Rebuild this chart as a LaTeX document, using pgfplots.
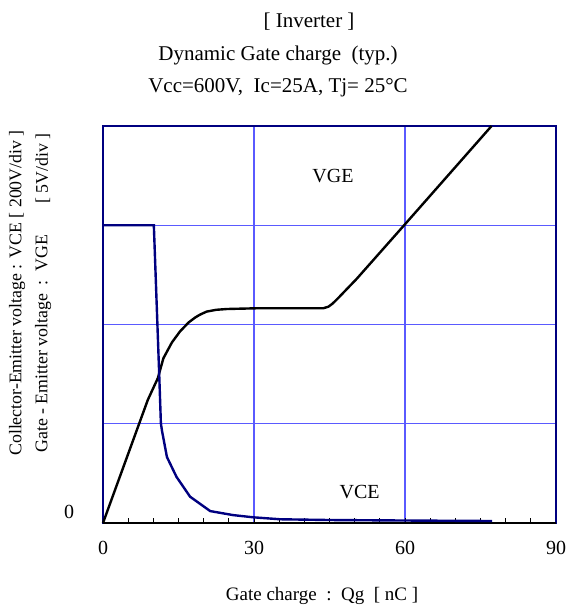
\documentclass[border=0pt]{standalone}
\usepackage{fontspec}
\setmainfont{Liberation Serif}
\usepackage{pgfplots}
\pgfplotsset{compat=1.18}
\definecolor{navy}{RGB}{0,0,128}
\definecolor{gridblue}{RGB}{90,90,255}
\begin{document}
\begin{tikzpicture}[x=1pt,y=1pt]
\useasboundingbox (0,0) rectangle (286,304);
% VGE axis (5V/div)
\begin{axis}[
  at={(51.5pt,42.5pt)}, anchor=south west,
  scale only axis, width=226.5pt, height=198.5pt,
  xmin=0, xmax=90, ymin=0, ymax=20,
  xtick={0,30,60,90}, ytick={0,5,10,15,20}, yticklabels={0,,,,},
  minor x tick num=5,
  xtick pos=bottom, ytick pos=left,
  tick align=inside,
  major tick length=2.5pt, minor tick length=2.5pt,
  xtick style={black, line width=0.5pt},
  ytick style={draw=none},
  grid=major, grid style={gridblue, line width=0.6pt},
  axis line style={navy, line width=0.8pt},
  xticklabel style={anchor=center, yshift=-12.5pt},
  yticklabel style={anchor=center, xshift=-17pt, yshift=5.5pt},
  /pgf/number format/assume math mode=true,
  clip=false,
]
\addplot[black, line width=1.2pt] coordinates {
  (0,0) (8.9,6.2) (10.9,7.3) (12,8.3) (13.7,9.1) (15.3,9.65) (17,10.1)
  (18.3,10.35) (19.3,10.5) (20.6,10.65) (22.5,10.74) (24.6,10.78) (31,10.82) (43.8,10.82)
  (44.8,10.9) (45.6,11.05) (46.8,11.35) (48.5,11.8) (50.4,12.3) (60,15.05) (77.2,20)
};
\draw[black, line width=0.9pt] (rel axis cs:0,0) -- (rel axis cs:1,0);
\node at (axis cs:45.7,17.5) {VGE};
\node at (axis cs:51,1.55) {VCE};
\end{axis}
% VCE axis (200V/div)
\begin{axis}[
  at={(51.5pt,42.5pt)}, anchor=south west,
  scale only axis, width=226.5pt, height=198.5pt,
  xmin=0, xmax=90, ymin=0, ymax=800,
  hide axis,
]
\addplot[navy, line width=1.2pt] coordinates {
  (0,600) (10.1,600) (11.2,290) (11.5,201) (11.7,187) (12.7,133)
  (14.6,93) (17.3,53) (21.3,24) (25.8,16) (29.8,11.5) (35.2,7.5)
  (45,6) (60,5) (77.3,4)
};
\end{axis}
\begin{scope}[every node/.style={inner sep=0, font=\fontsize{10.5}{12}\selectfont}]
\node at (154.5,293) {[ Inverter ]};
\node at (139,276.5) {Dynamic Gate charge\ \ (typ.)};
\node at (139,260) {Vcc=600V,\ \ Ic=25A, Tj= 25°C};
\end{scope}
\node[inner sep=0, font=\fontsize{9.5}{11}\selectfont] at (161,6) {Gate charge\ \ :\ \ Qg\ \ [ nC ]};
\begin{scope}[every node/.style={inner sep=0, rotate=90, font=\fontsize{8.9}{10.5}\selectfont}]
\node at (8.5,157.5) {Collector-Emitter voltage : VCE [ 200V/div ]};
\node[anchor=west] at (21.5,77.5) {Gate - Emitter voltage\ \ :\ \ VGE};
\node[anchor=east] at (21.5,237.5) {[ 5V/div ]};
\end{scope}
\end{tikzpicture}
\end{document}
